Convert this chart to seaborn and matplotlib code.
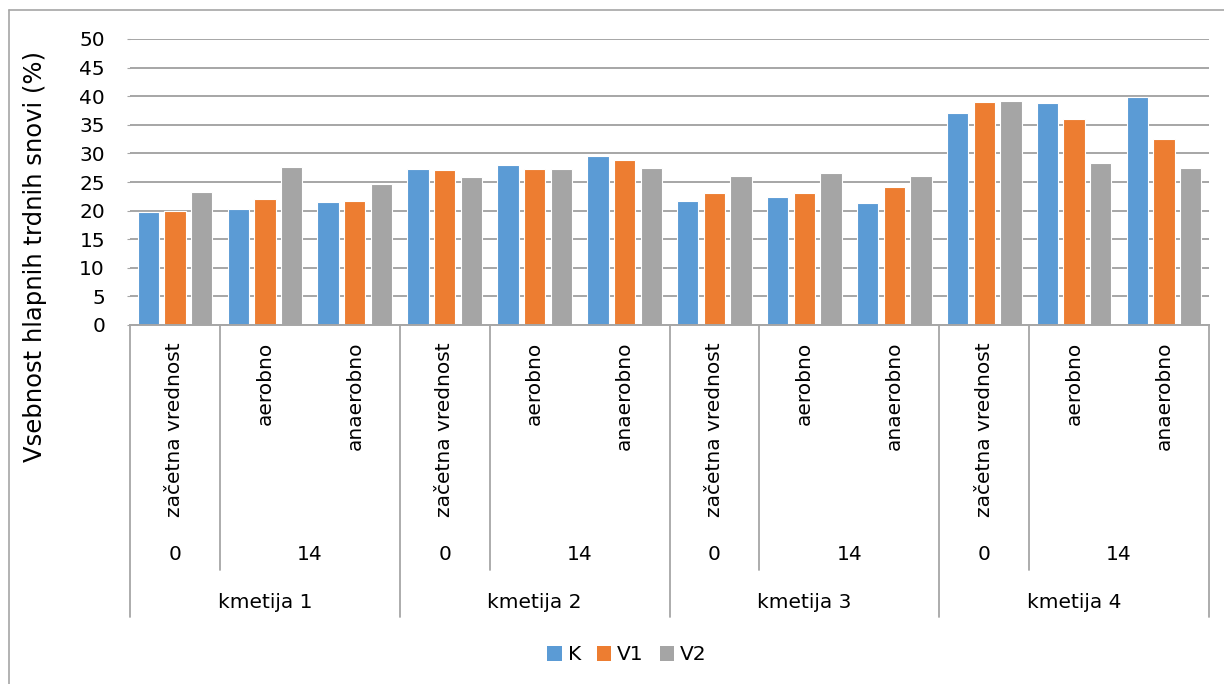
import pandas as pd
import seaborn as sns
import matplotlib.pyplot as plt
import matplotlib.transforms as mtransforms
from matplotlib.patches import Patch

# data
farms = ["kmetija 1", "kmetija 2", "kmetija 3", "kmetija 4"]
days = ["0", "14", "14"]
conditions = ["začetna vrednost", "aerobno", "anaerobno"]
series = ["K", "V1", "V2"]
colors = ["#5B9BD5", "#ED7D31", "#A5A5A5"]

K = [19.7, 20.2, 21.5, 27.2, 27.9, 29.5, 21.6, 22.4, 21.4, 37.0, 38.8, 39.8]
V1 = [19.9, 22.0, 21.7, 27.1, 27.3, 28.9, 23.0, 23.0, 24.1, 39.0, 36.1, 32.6]
V2 = [23.2, 27.7, 24.6, 25.9, 27.2, 27.4, 26.1, 26.6, 26.0, 39.2, 28.3, 27.4]

ylabel = "Vsebnost hlapnih trdnih snovi (%)"

# long table for seaborn
cats = [f"{f}|{c}" for f in farms for c in conditions]
rows = []
for name, vals in zip(series, [K, V1, V2]):
    for cat, v in zip(cats, vals):
        rows.append({"cat": cat, "serija": name, "vrednost": v})
df = pd.DataFrame(rows)

sns.set_style("white")
plt.rcParams['font.family'] = ['DejaVu Sans']
plt.rcParams['text.color'] = 'black'
plt.rcParams['ytick.color'] = 'black'
fs = 14.5
grid_c = "#A6A6A6"

W, H = 1224, 684
fig = plt.figure(figsize=(W / 100, H / 100), dpi=100)
ax = fig.add_axes([130 / W, 1 - 325 / H, 1079 / W, 286 / H])

sns.barplot(data=df, x="cat", y="vrednost", hue="serija", order=cats,
            hue_order=series, palette=colors, saturation=1, width=0.89, gap=0.2,
            edgecolor="white", linewidth=0.8, ax=ax)
ax.get_legend().remove()

ax.set_xlim(-0.5, len(cats) - 0.5)
ax.set_ylim(0, 50)
ax.set_yticks(range(0, 51, 5))
ax.yaxis.grid(True, color=grid_c, linewidth=1.4)
ax.set_axisbelow(True)
ax.tick_params(axis="y", labelsize=fs, length=2, pad=16, color=grid_c,
               labelcolor="black", left=True)
ax.set_xticks([])
ax.set_xlabel("")
ax.set_ylabel("")
for s in ["top", "right", "left"]:
    ax.spines[s].set_visible(False)
ax.spines["bottom"].set_color(grid_c)
ax.spines["bottom"].set_linewidth(1.4)

# multi level category axis
trans = mtransforms.blended_transform_factory(ax.transData, fig.transFigure)
def fy(py):
    return 1 - py / H

line_kw = dict(color=grid_c, linewidth=1.3, transform=trans, clip_on=False)
for g in range(len(farms) + 1):
    x = g * 3 - 0.5
    ax.plot([x, x], [fy(325), fy(617)], **line_kw)
for g in range(len(farms)):
    x = g * 3 + 0.5
    ax.plot([x, x], [fy(325), fy(570)], **line_kw)

for i, cat in enumerate(cats):
    ax.text(i, fy(342), cat.split("|")[1], rotation=90, ha="center", va="top",
            fontsize=fs, transform=trans)
for g, farm in enumerate(farms):
    ax.text(g * 3, fy(555), days[0], ha="center", va="center", fontsize=fs, transform=trans)
    ax.text(g * 3 + 1.5, fy(555), days[1], ha="center", va="center", fontsize=fs, transform=trans)
    ax.text(g * 3 + 1, fy(602), farm, ha="center", va="center", fontsize=fs, transform=trans)

fig.text(35 / W, fy(257), ylabel, rotation=90, ha="center", va="center", fontsize=17.5)

handles = [Patch(facecolor=c, edgecolor="none") for c in colors]
fig.legend(handles, series, loc="center", bbox_to_anchor=(627 / W, fy(655)), ncol=3,
           frameon=False, fontsize=fs, handlelength=0.7, handleheight=0.7,
           handletextpad=0.3, columnspacing=0.8)

# chart border (left and top only visible in reference)
fig.add_artist(plt.Line2D([9 / W, 9 / W], [0, fy(10)], color=grid_c, linewidth=1.2,
                          transform=fig.transFigure))
fig.add_artist(plt.Line2D([9 / W, 1], [fy(10), fy(10)], color=grid_c, linewidth=1.2,
                          transform=fig.transFigure))

fig.savefig("out.png", dpi=100, facecolor="white")
